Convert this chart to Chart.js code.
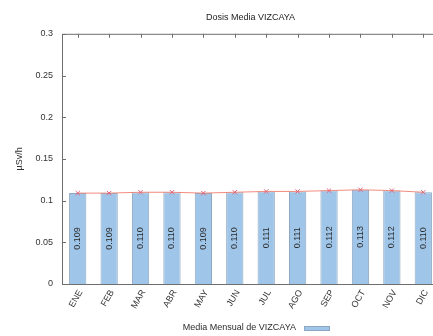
<!DOCTYPE html>
<html>
<head>
<meta charset="utf-8">
<title>Dosis Media VIZCAYA</title>
<script src="https://cdn.jsdelivr.net/npm/chart.js@4/dist/chart.umd.min.js"></script>
<style>
    html, body { margin: 0; padding: 0; background: #fff; overflow: hidden; }
    #wrap { width: 445px; height: 336px; }
</style>
</head>
<body>
<div id="wrap"><canvas id="chart-dosis" width="445" height="336"></canvas></div>
<script>
// Meses y media mensual (µSv/h)
const months = ['ENE', 'FEB', 'MAR', 'ABR', 'MAY', 'JUN', 'JUL', 'AGO', 'SEP', 'OCT', 'NOV', 'DIC'];
const monthlyMean = [0.109, 0.109, 0.110, 0.110, 0.109, 0.110, 0.111, 0.111, 0.112, 0.113, 0.112, 0.110];
const yTickLabels = ['0', '0.05', '0.1', '0.15', '0.2', '0.25', '0.3'];

const provincia = 'VIZCAYA';
const FONT = 'Liberation Sans, Arial, sans-serif';
const AXIS_COLOR = '#6e6e6e';

/**
 * Marco tipo gnuplot: bordes, ticks hacia dentro y valores en las barras
 */
const framePlugin = {
    id: 'frame',
    afterDatasetsDraw(chart) {
        const { ctx, chartArea: a, scales } = chart;
        const x = scales.x, y = scales.y;

        ctx.save();
        ctx.strokeStyle = AXIS_COLOR;
        ctx.lineWidth = 1;
        ctx.beginPath();
        // bordes izquierdo, inferior y superior
        ctx.moveTo(a.left + 0.5, a.top + 0.5);
        ctx.lineTo(a.left + 0.5, a.bottom + 0.5);
        ctx.lineTo(a.right, a.bottom + 0.5);
        ctx.moveTo(a.left, a.top + 0.5);
        ctx.lineTo(a.right, a.top + 0.5);
        // ticks superiores
        months.forEach((m, i) => {
            const px = Math.round(x.getPixelForTick(i)) + 0.5;
            ctx.moveTo(px, a.top);
            ctx.lineTo(px, a.top + 4);
        });
        // ticks izquierdos
        y.ticks.forEach(t => {
            const py = Math.round(y.getPixelForValue(t.value)) + 0.5;
            ctx.moveTo(a.left, py);
            ctx.lineTo(a.left + 4, py);
        });
        ctx.stroke();

        // valores dentro de las barras, girados
        const meta = chart.getDatasetMeta(0);
        ctx.fillStyle = '#2b2b2b';
        ctx.font = '9px ' + FONT;
        ctx.textAlign = 'center';
        ctx.textBaseline = 'middle';
        meta.data.forEach((bar, i) => {
            ctx.save();
            ctx.translate(bar.x, (bar.y + bar.base) / 2);
            ctx.rotate(-Math.PI / 2);
            ctx.fillText(monthlyMean[i].toFixed(3), 0, 0);
            ctx.restore();
        });
        ctx.restore();
    },
    afterDraw(chart) {
        // leyenda: texto y muestra a la derecha
        const { ctx } = chart;
        ctx.save();
        ctx.font = '9px ' + FONT;
        ctx.fillStyle = '#2b2b2b';
        ctx.textAlign = 'right';
        ctx.textBaseline = 'middle';
        ctx.fillText('Media Mensual de ' + provincia, 296, 328);
        ctx.fillStyle = '#9fc5e8';
        ctx.fillRect(304, 326, 26, 5);
        ctx.strokeStyle = '#8ea8c3';
        ctx.strokeRect(304.5, 326.5, 25, 4);
        ctx.restore();
    }
};

const ctx = document.getElementById('chart-dosis').getContext('2d');
new Chart(ctx, {
    data: {
        labels: months,
        datasets: [
            {
                type: 'bar',
                label: 'Media Mensual de ' + provincia,
                data: monthlyMean,
                backgroundColor: '#9fc5e8',
                borderColor: '#8ea8c3',
                borderWidth: 1,
                barPercentage: 0.55,
                categoryPercentage: 1,
                order: 2
            },
            {
                type: 'line',
                data: monthlyMean,
                borderColor: '#f28b7d',
                borderWidth: 1,
                pointStyle: 'crossRot',
                pointRadius: 3,
                pointBorderColor: '#e0607a',
                pointBorderWidth: 1,
                tension: 0,
                order: 1
            }
        ]
    },
    options: {
        responsive: false,
        animation: false,
        layout: { padding: { left: 0, right: 6, top: 0, bottom: 0 } },
        scales: {
            x: {
                grid: { display: false, drawTicks: false },
                border: { display: false },
                ticks: {
                    minRotation: 60,
                    maxRotation: 60,
                    padding: 4,
                    labelOffset: 3,
                    color: '#333',
                    font: { family: FONT, size: 9 }
                },
                afterFit(scale) { scale.height = 52; }
            },
            y: {
                min: 0,
                max: 0.3,
                grid: { display: false, drawTicks: false },
                border: { display: false },
                ticks: {
                    stepSize: 0.05,
                    padding: 9,
                    color: '#333',
                    font: { family: FONT, size: 9 },
                    callback: (value, i) => yTickLabels[i]
                },
                title: {
                    display: true,
                    text: 'µSv/h',
                    color: '#333',
                    font: { family: FONT, size: 9 },
                    padding: { top: 14, bottom: 0 }
                },
                afterFit(scale) { scale.width = 62; }
            }
        },
        plugins: {
            legend: { display: false },
            tooltip: { enabled: false },
            title: {
                display: true,
                fullSize: false,
                text: 'Dosis Media ' + provincia,
                color: '#222',
                font: { family: FONT, size: 9, weight: 'normal' },
                padding: { top: 12, bottom: 11 }
            }
        }
    },
    plugins: [framePlugin]
});
</script>
</body>
</html>
